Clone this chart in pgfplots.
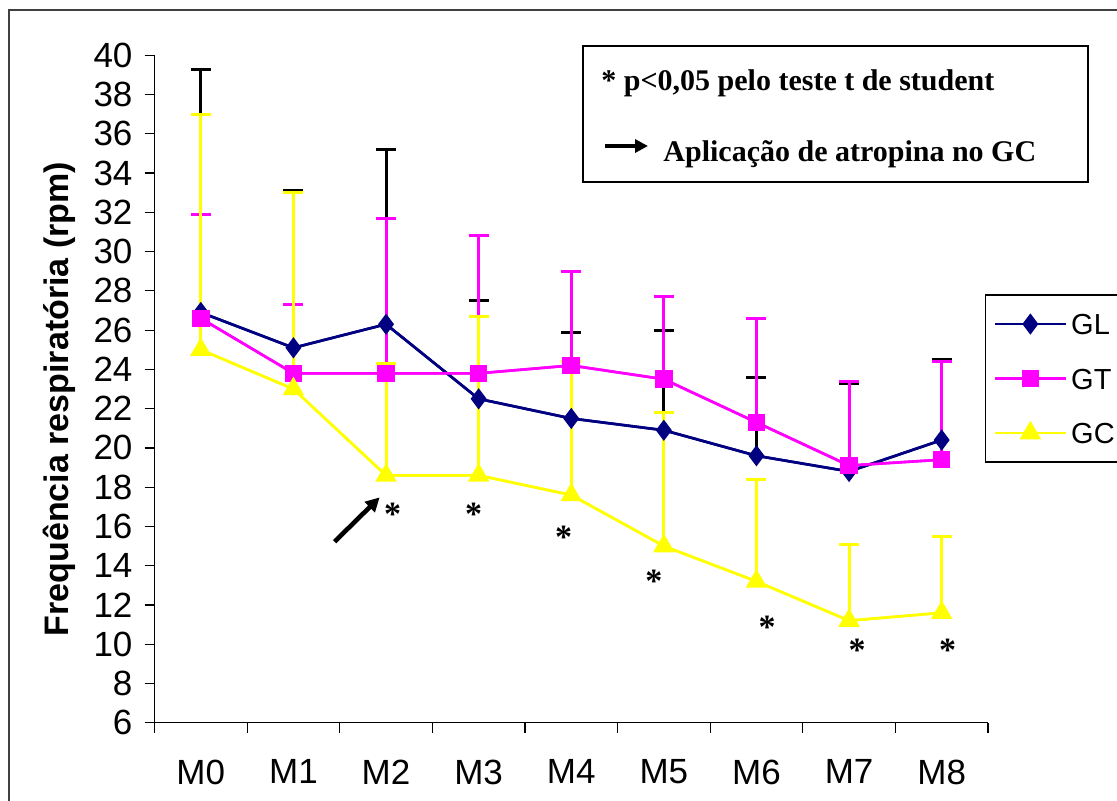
\documentclass[border=0pt]{standalone}
\usepackage{fontspec}
\setmainfont{Liberation Sans}
\newfontfamily\tnr{Liberation Serif}
\usepackage{pgfplots}
\usepackage{pgfplotstable}
\pgfplotsset{compat=1.18}
\usetikzlibrary{arrows.meta}

\definecolor{navy}{RGB}{0,0,128}
\definecolor{mag}{RGB}{255,0,255}
\definecolor{yel}{RGB}{255,255,0}

\pgfplotstableread{
x gl glu gt gtu gc gcu
0 26.9 39.3 26.6 31.9 25.0 37.0
1 25.1 33.1 23.8 27.3 23.0 33.0
2 26.3 35.2 23.8 31.7 18.6 24.3
3 22.5 27.5 23.8 30.8 18.6 26.7
4 21.5 25.9 24.2 29.0 17.6 24.4
5 20.9 26.0 23.5 27.7 15.0 21.8
6 19.6 23.6 21.3 26.6 13.2 18.4
7 18.8 23.3 19.1 23.4 11.2 15.1
8 20.4 24.5 19.4 24.4 11.6 15.5
}\datatable

\begin{document}
\begin{tikzpicture}
\begin{axis}[
  at={(77.25pt,-361.35pt)}, anchor=south west,
  scale only axis, width=416.75pt, height=333.7pt,
  xmin=-0.5, xmax=8.5, ymin=6, ymax=40,
  axis x line=bottom, axis y line=left,
  axis line style={-, line width=0.6pt, black},
  xtick={0,...,8}, xticklabels={M0,M1,M2,M3,M4,M5,M6,M7,M8},
  minor xtick={-0.5,0.5,...,8.5},
  ytick={6,8,...,40},
  minor ytick={6,8,...,40},
  tick align=outside,
  major tick length=0pt, minor tick length=5pt,
  tick style={black, line width=0.6pt},
  ticklabel style={font=\fontsize{17.5pt}{20pt}\selectfont},
  /pgf/number format/assume math mode=true,
  yticklabel style={xshift=-7.5pt},
  xticklabel style={yshift=-15pt},
  clip=false,
  legend style={at={(0.9964,0.6417)}, anchor=north west, draw=black, line width=0.6pt,
    fill=white, font=\fontsize{14.5pt}{16pt}\selectfont, row sep=12.75pt,
    inner xsep=4pt, inner ysep=7.25pt,
    nodes={inner sep=2pt, text height=10.5pt, text depth=0pt}},
  legend cell align=left,
  legend image code/.code={\draw[mark repeat=2,mark phase=2,#1] plot coordinates {(0pt,0pt) (17.75pt,0pt) (35.5pt,0pt)};},
]
% error bars (drawn first)
\addplot[navy, line width=1.3pt, mark=none, forget plot,
  error bars/.cd, y dir=plus, y explicit,
  error bar style={black, line width=1.5pt},
  error mark options={rotate=90, black, line width=1.5pt, mark size=5pt}]
  table[x=x, y=gl, y error expr=\thisrow{glu}-\thisrow{gl}]{\datatable};
\addplot[mag, line width=1.3pt, mark=none, forget plot,
  error bars/.cd, y dir=plus, y explicit,
  error bar style={mag, line width=1.5pt},
  error mark options={rotate=90, mag, line width=1.5pt, mark size=5pt}]
  table[x=x, y=gt, y error expr=\thisrow{gtu}-\thisrow{gt}]{\datatable};
\addplot[yel, line width=1.3pt, mark=none, forget plot,
  error bars/.cd, y dir=plus, y explicit,
  error bar style={yel, line width=1.5pt},
  error mark options={rotate=90, yel, line width=1.5pt, mark size=5pt}]
  table[x=x, y=gc, y error expr=\thisrow{gcu}-\thisrow{gc}]{\datatable};
% series
\addplot[navy, line width=1.3pt, mark=diamond*, mark size=4.25pt, mark options={solid, fill=navy}]
  table[x=x, y=gl]{\datatable};
\addlegendentry{GL\hspace{30pt}}
\addplot[mag, line width=1.3pt, mark=square*, mark size=3.75pt, mark options={solid, fill=mag}]
  table[x=x, y=gt]{\datatable};
\addlegendentry{GT}
\addplot[yel, line width=1.3pt, mark=triangle*, mark size=4.9pt, mark options={solid, fill=yel}]
  table[x=x, y=gc]{\datatable};
\addlegendentry{GC}
% significance asterisks
\foreach \ax/\ay in {2.071/16.07, 2.946/16.07, 3.918/14.90, 4.891/12.61, 6.115/10.27, 7.087/9.10, 8.064/9.10}{
  \edef\tmp{\noexpand\node[anchor=base, inner sep=0pt, font=\noexpand\tnr\noexpand\bfseries\noexpand\fontsize{17pt}{18pt}\noexpand\selectfont] at (axis cs:\ax,\ay) {*};}\tmp
}
\draw[-{Triangle[length=7pt, width=7pt]}, line width=2.3pt, black] (axis cs:1.444,15.22) -- (axis cs:1.931,17.48);
\end{axis}
\begin{scope}[x=0.5pt, y=-0.5pt]
\draw[line width=0.75pt, black!75] (9,10) rectangle (1140,820);
\draw[line width=0.8pt, black] (583,46) rectangle (1088,182);
\node[anchor=base west, inner sep=0pt, font=\tnr\bfseries\fontsize{15pt}{18pt}\selectfont] at (601,90) {* p<0,05 pelo teste t de student};
\draw[-{Triangle[length=6.5pt, width=6.5pt]}, line width=2pt] (605,146) -- (648,146);
\node[anchor=base west, inner sep=0pt, font=\tnr\bfseries\fontsize{15pt}{18pt}\selectfont] at (663,161) {Aplicação de atropina no GC};
\node[rotate=90, anchor=base, inner sep=0pt, font=\bfseries\fontsize{17pt}{20pt}\selectfont] at (68,399) {Frequência respiratória (rpm)};
\pgfresetboundingbox
\useasboundingbox (0,0) rectangle (1117,800);
\end{scope}
\end{tikzpicture}
\end{document}
